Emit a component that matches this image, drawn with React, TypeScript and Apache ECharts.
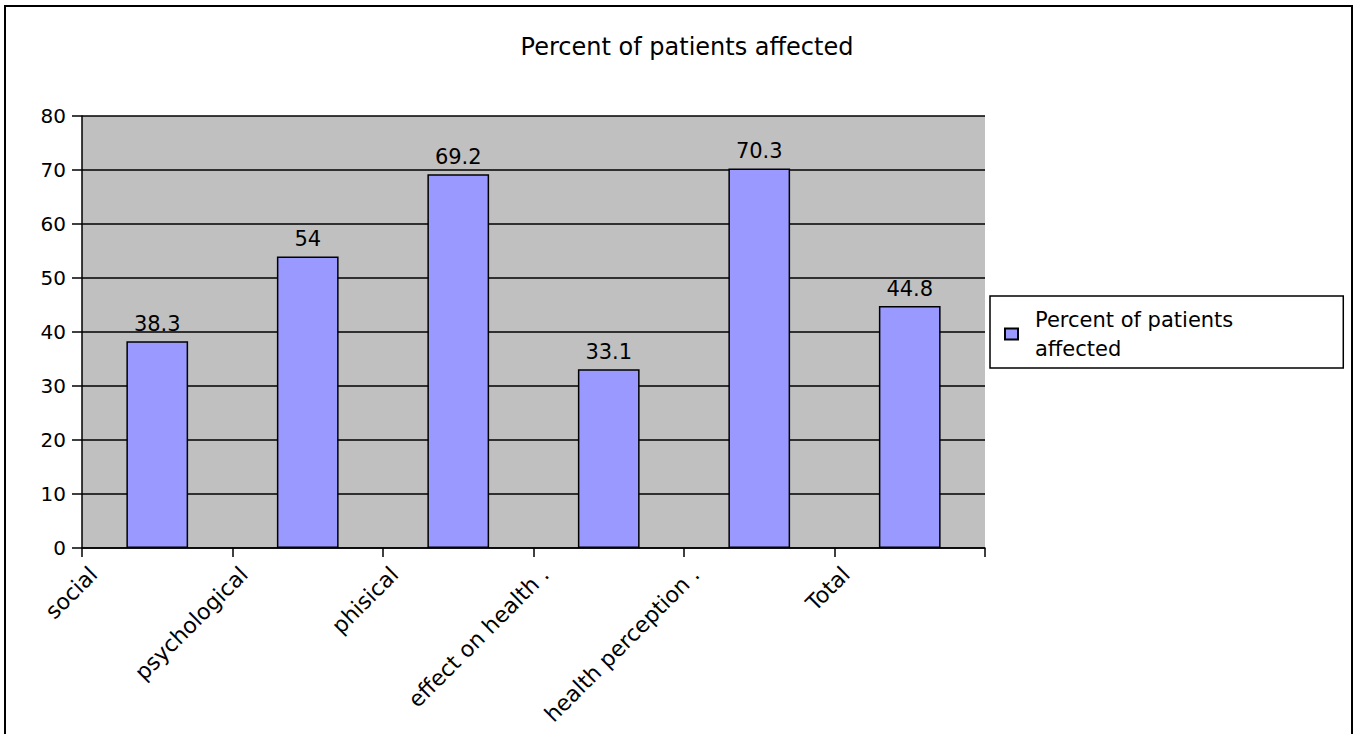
import React, { useEffect, useRef } from "react";
import * as echarts from "echarts";

const categories = ["social", "psychological", "phisical", "effect on health .", "health perception .", "Total"];
const values = [38.3, 54, 69.2, 33.1, 70.3, 44.8];
const valueLabels = ["38.3", "54", "69.2", "33.1", "70.3", "44.8"];
const seriesName = "Percent of patients affected";
const yTicks = { min: 0, max: 80, interval: 10 };

const FONT = "DejaVu Sans";

export default function App() {
  const ref = useRef<HTMLDivElement>(null);
  useEffect(() => {
    document.body.style.margin = "0";
    const chart = echarts.init(ref.current!, null, { renderer: "svg" });
    chart.setOption({
      animation: false,
      backgroundColor: "#ffffff",
      title: {
        text: seriesName,
        left: 682,
        textAlign: "center",
        top: 30,
        textStyle: { fontFamily: FONT, fontSize: 24, fontWeight: "normal", color: "#000" },
      },
      legend: {
        orient: "vertical",
        left: 990,
        top: 296,
        data: [{ name: seriesName, icon: "rect" }],
        formatter: () => "{a|Percent of patients}\n{a|affected}",
        itemWidth: 13,
        itemHeight: 11,
        itemGap: 5,
        padding: [9, 110, 5, 14],
        borderColor: "#000",
        borderWidth: 1.5,
        textStyle: {
          fontFamily: FONT,
          fontSize: 21,
          color: "#000",
          lineHeight: 29,
          rich: { a: { fontFamily: FONT, fontSize: 21, color: "#000", lineHeight: 29, padding: [0, 0, 0, 12] } },
        },
      },
      grid: { left: 82, right: 371, top: 116, bottom: 186, show: true, backgroundColor: "#C0C0C0", borderWidth: 0 },
      xAxis: {
        type: "category",
        data: categories,
        axisLine: { lineStyle: { color: "#000", width: 1.5 } },
        axisTick: { show: true, length: 9, lineStyle: { color: "#000", width: 1.5 } },
        axisLabel: {
          rotate: 45,
          interval: 0,
          margin: 10,
          fontFamily: FONT,
          fontSize: 22,
          color: "#000",
          verticalAlign: "bottom",
          padding: [0, 54, 25, 0],
        },
      },
      yAxis: {
        type: "value",
        min: yTicks.min,
        max: yTicks.max,
        interval: yTicks.interval,
        axisLine: { show: true, lineStyle: { color: "#000", width: 1.5 } },
        axisTick: { show: true, length: 10, lineStyle: { color: "#000", width: 1.5 } },
        splitLine: { show: true, lineStyle: { color: "#000", width: 1.5 } },
        axisLabel: { fontFamily: FONT, fontSize: 20, color: "#000", margin: 16 },
      },
      series: [
        {
          type: "bar",
          name: seriesName,
          data: values,
          barWidth: "41%",
          itemStyle: { color: "#9999FF", borderColor: "#000", borderWidth: 1.5 },
          label: {
            show: true,
            position: "top",
            distance: 7,
            fontFamily: FONT,
            fontSize: 21,
            color: "#000",
            formatter: (p: any) => valueLabels[p.dataIndex],
          },
        },
      ],
      graphic: [
        {
          type: "rect",
          shape: { x: 5, y: 6, width: 1347, height: 740 },
          style: { fill: "none", stroke: "#000", lineWidth: 2 },
          silent: true,
        },
      ],
    });
    return () => chart.dispose();
  }, []);
  return <div ref={ref} style={{ width: 1356, height: 734 }} />;
}
